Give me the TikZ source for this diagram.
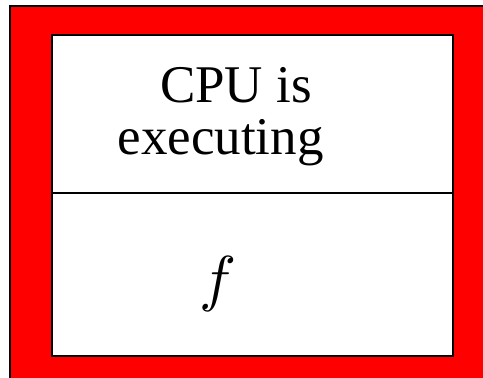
\documentclass[tikz,border=0pt]{standalone}
\usepackage{fontspec}
\setmainfont{Liberation Serif}
% make math italic scalable to any size
\DeclareFontFamily{OML}{cmm}{\skewchar\font'177}
\DeclareFontShape{OML}{cmm}{m}{it}{<->cmmi10}{}
\begin{document}
\begin{tikzpicture}[x=1pt,y=-1pt,
  frame/.style={draw=black,line width=2pt},
  label/.style={inner sep=0pt,anchor=base,font=\fontsize{53}{52}\selectfont}]
  \useasboundingbox (0,0) rectangle (483,378);
  \clip (0,0) rectangle (483,378);
  % red outer band
  \path[frame,fill=red] (9.5,5.5) rectangle (500,400);
  % white panel split in two
  \node[frame,fill=white,minimum width=401pt,minimum height=321pt,inner sep=0pt,anchor=north west] (panel) at (50.5,33.5) {};
  \coordinate (divL) at (50.5,193);
  \coordinate (divR) at (451.5,193);
  \draw[line width=2pt] (divL) -- (divR);
  % labels
  \node[label] (cpu) at (236,102) {CPU is};
  \node[label] (exec) at (220.5,154) {executing};
  \node[inner sep=0pt,anchor=base,font=\fontsize{62}{62}\selectfont] (f) at (218,299) {$f$};
\end{tikzpicture}
\end{document}
